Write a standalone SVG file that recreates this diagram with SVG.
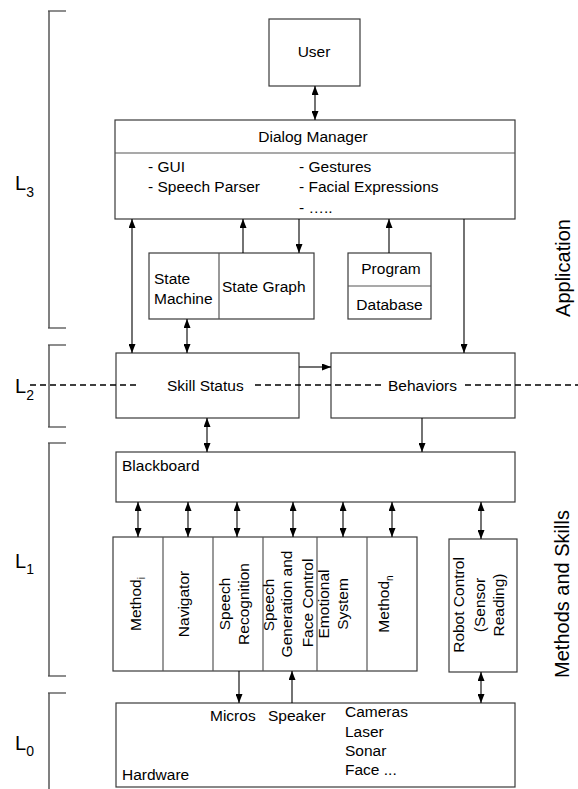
<svg xmlns="http://www.w3.org/2000/svg" width="578" height="789" viewBox="0 0 578 789">
  <style>
    .box { fill: #ffffff; stroke: #3a3a3a; stroke-width: 1.2; }
    .div { stroke: #555555; stroke-width: 1.2; fill: none; }
    .t { font-family: "Liberation Sans", Arial, sans-serif; font-size: 15.5px; fill: #000000; }
    .c { text-anchor: middle; }
    .lvl { font-family: "Liberation Sans", Arial, sans-serif; font-size: 20px; fill: #000000; }
    .sub { font-size: 14px; }
    .side { font-family: "Liberation Sans", Arial, sans-serif; font-size: 20px; fill: #000000; text-anchor: middle; }
    .conn line { stroke: #000000; stroke-width: 1.1; }
    .one { marker-end: url(#ah); }
    .two { marker-start: url(#ah); marker-end: url(#ah); }
    .brk .v { stroke: #808080; stroke-width: 2; }
    .brk .h { stroke: #505050; stroke-width: 1.3; }
    .dash { stroke: #000000; stroke-width: 1.5; stroke-dasharray: 6 4; fill: none; }
  </style>
  <defs>
    <marker id="ah" markerUnits="userSpaceOnUse" markerWidth="10" markerHeight="7" refX="9" refY="3.5" orient="auto-start-reverse">
      <path d="M0,0 L9,3.5 L0,7 z" fill="#000000"/>
    </marker>
  </defs>

  <rect width="578" height="789" fill="#ffffff"/>

  <!-- layer brackets on the left -->
  <g id="brackets" class="brk">
    <line class="v" x1="49" y1="11" x2="49" y2="328"/>
    <line class="h" x1="48" y1="11" x2="66" y2="11"/>
    <line class="h" x1="48" y1="328" x2="66" y2="328"/>
    <line class="v" x1="49" y1="345" x2="49" y2="427"/>
    <line class="h" x1="48" y1="345" x2="66" y2="345"/>
    <line class="h" x1="48" y1="427" x2="66" y2="427"/>
    <line class="v" x1="49" y1="443" x2="49" y2="676"/>
    <line class="h" x1="48" y1="443" x2="66" y2="443"/>
    <line class="h" x1="48" y1="676" x2="66" y2="676"/>
    <line class="v" x1="49" y1="693" x2="49" y2="789"/>
    <line class="h" x1="48" y1="693" x2="66" y2="693"/>
  </g>

  <g id="level-labels">
    <text class="lvl" x="15" y="190">L<tspan class="sub" dy="7">3</tspan></text>
    <text class="lvl" x="15" y="393">L<tspan class="sub" dy="7">2</tspan></text>
    <text class="lvl" x="15" y="568">L<tspan class="sub" dy="6">1</tspan></text>
    <text class="lvl" x="15" y="750">L<tspan class="sub" dy="6">0</tspan></text>
  </g>

  <g id="side-labels">
    <text class="side" transform="translate(570,268) rotate(-90)">Application</text>
    <text class="side" transform="translate(569,594) rotate(-90)">Methods and Skills</text>
  </g>

  <g id="user">
    <rect class="box" x="269" y="19" width="91" height="67"/>
    <text class="t c" x="314" y="57">User</text>
  </g>

  <g id="dialog-manager">
    <rect class="box" x="115" y="120" width="400" height="99"/>
    <line class="div" x1="115" y1="153" x2="515" y2="153"/>
    <text class="t c" x="313" y="142">Dialog Manager</text>
    <text class="t" x="148" y="172">- GUI</text>
    <text class="t" x="148" y="192">- Speech Parser</text>
    <text class="t" x="299" y="172">- Gestures</text>
    <text class="t" x="299" y="192">- Facial Expressions</text>
    <text class="t" x="299" y="213">- …..</text>
  </g>

  <g id="state-machine">
    <rect class="box" x="149" y="253" width="165" height="66"/>
    <line class="div" x1="219" y1="253" x2="219" y2="319"/>
    <text class="t" x="154" y="284">State</text>
    <text class="t" x="154" y="304">Machine</text>
    <text class="t" x="222" y="292">State Graph</text>
  </g>

  <g id="program-database">
    <rect class="box" x="348" y="253" width="83" height="66"/>
    <line class="div" x1="348" y1="286" x2="431" y2="286"/>
    <text class="t c" x="391" y="274">Program</text>
    <text class="t c" x="389.5" y="310">Database</text>
  </g>

  <g id="skill-status">
    <rect class="box" x="116" y="353" width="183" height="65"/>
    <text class="t" x="167" y="391">Skill Status</text>
  </g>

  <g id="behaviors">
    <rect class="box" x="331" y="353" width="184" height="65"/>
    <text class="t" x="388" y="391">Behaviors</text>
  </g>

  <!-- L2 boundary line, broken around the two labels -->
  <g id="l2-boundary">
    <line class="dash" x1="30" y1="385" x2="140" y2="385"/>
    <line class="dash" x1="255" y1="385" x2="382" y2="385"/>
    <line class="dash" x1="465" y1="385" x2="578" y2="385"/>
  </g>

  <g id="blackboard">
    <rect class="box" x="116" y="452" width="399" height="50"/>
    <text class="t" x="122" y="471">Blackboard</text>
  </g>

  <g id="methods">
    <rect class="box" x="113" y="537" width="304" height="134"/>
    <line class="div" x1="163" y1="537" x2="163" y2="671"/>
    <line class="div" x1="213" y1="537" x2="213" y2="671"/>
    <line class="div" x1="263" y1="537" x2="263" y2="671"/>
    <line class="div" x1="317" y1="537" x2="317" y2="671"/>
    <line class="div" x1="367" y1="537" x2="367" y2="671"/>
    <text class="t c" transform="translate(141,604) rotate(-90)">Method<tspan font-size="10" dy="4">i</tspan></text>
    <text class="t c" transform="translate(189,604) rotate(-90)">Navigator</text>
    <text class="t c" transform="translate(230,604) rotate(-90)">Speech</text>
    <text class="t c" transform="translate(249,604) rotate(-90)">Recognition</text>
    <text class="t c" transform="translate(274,605) rotate(-90)">Speech</text>
    <text class="t c" transform="translate(292,604) rotate(-90)">Generation and</text>
    <text class="t c" transform="translate(313,603) rotate(-90)">Face Control</text>
    <text class="t c" transform="translate(329,604) rotate(-90)">Emotional</text>
    <text class="t c" transform="translate(348,604) rotate(-90)">System</text>
    <text class="t c" transform="translate(389,604) rotate(-90)">Method<tspan font-size="10" dy="4">n</tspan></text>
  </g>

  <g id="robot-control">
    <rect class="box" x="449" y="539" width="68" height="133"/>
    <text class="t c" transform="translate(464,605) rotate(-90)">Robot Control</text>
    <text class="t c" transform="translate(485,605) rotate(-90)">(Sensor</text>
    <text class="t c" transform="translate(504,605) rotate(-90)">Reading)</text>
  </g>

  <g id="hardware">
    <rect class="box" x="116" y="703" width="399" height="84"/>
    <text class="t" x="210" y="721">Micros</text>
    <text class="t" x="268" y="721">Speaker</text>
    <text class="t" x="345" y="717">Cameras</text>
    <text class="t" x="345" y="737">Laser</text>
    <text class="t" x="345" y="756">Sonar</text>
    <text class="t" x="345" y="775">Face ...</text>
    <text class="t" x="122" y="780">Hardware</text>
  </g>

  <g id="connectors" class="conn">
    <line class="two" x1="315" y1="86" x2="315" y2="120"/>
    <line class="two" x1="132" y1="219" x2="132" y2="353"/>
    <line class="one" x1="243" y1="253" x2="243" y2="219"/>
    <line class="one" x1="299" y1="219" x2="299" y2="253"/>
    <line class="one" x1="389" y1="253" x2="389" y2="219"/>
    <line class="one" x1="464" y1="219" x2="464" y2="353"/>
    <line class="two" x1="187" y1="319" x2="187" y2="353"/>
    <line class="one" x1="299" y1="367" x2="331" y2="367"/>
    <line class="two" x1="207" y1="418" x2="207" y2="452"/>
    <line class="one" x1="422" y1="418" x2="422" y2="452"/>
    <line class="two" x1="138" y1="502" x2="138" y2="537"/>
    <line class="two" x1="188" y1="502" x2="188" y2="537"/>
    <line class="two" x1="237" y1="502" x2="237" y2="537"/>
    <line class="two" x1="293" y1="502" x2="293" y2="537"/>
    <line class="two" x1="343" y1="502" x2="343" y2="537"/>
    <line class="two" x1="392" y1="502" x2="392" y2="537"/>
    <line class="two" x1="481" y1="502" x2="481" y2="539"/>
    <line class="two" x1="481" y1="672" x2="481" y2="703"/>
    <line class="one" x1="239" y1="671" x2="239" y2="703"/>
    <line class="one" x1="292" y1="703" x2="292" y2="671"/>
  </g>
</svg>
